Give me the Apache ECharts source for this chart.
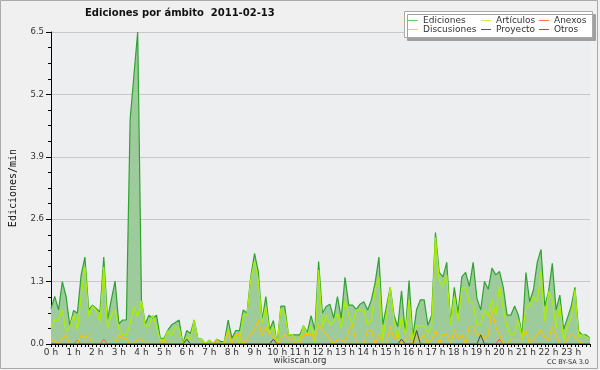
<!DOCTYPE html>
<html><head><meta charset="utf-8">
<script src="https://cdn.jsdelivr.net/npm/echarts@6/dist/echarts.min.js"></script>
<style>html,body{margin:0;padding:0;background:#f0f0f0}#c{width:600px;height:370px}</style>
</head><body><div id="c"></div>
<script>
// 10-minute slots, 00:00 .. 23:50
const slots = [];
for (let h = 0; h < 24; h++) for (let m = 0; m < 60; m += 10) slots.push(h + ':' + (m < 10 ? '0' : '') + m);

const yTicks = [0, 1.3, 2.6, 3.9, 5.2, 6.5];

const ediciones = [
0.74,0.99,0.71,1.30,0.99,0.38,0.70,0.64,1.44,1.81,0.71,0.81,
0.74,0.67,1.81,0.51,0.92,1.31,0.42,0.50,0.50,4.68,5.60,6.50,
0.92,0.42,0.60,0.53,0.60,0.12,0.12,0.29,0.40,0.45,0.50,0.00,
0.28,0.22,0.50,0.10,0.10,0.00,0.08,0.00,0.10,0.05,0.05,0.50,
0.12,0.28,0.28,0.71,0.64,1.40,1.89,1.51,0.50,0.99,0.29,0.49,
0.00,0.79,0.79,0.19,0.19,0.19,0.19,0.38,0.24,0.59,0.29,1.72,
0.64,0.78,0.83,0.54,0.99,0.54,1.39,0.81,0.81,0.72,0.83,0.88,
0.71,0.92,1.28,1.81,0.40,0.78,1.18,0.60,0.36,1.11,0.22,1.32,
0.15,0.72,0.92,0.92,0.39,0.60,2.32,1.49,1.40,1.70,0.45,1.18,
0.64,1.40,1.49,1.20,1.70,0.95,0.71,1.30,1.14,1.58,1.44,1.51,
1.18,0.60,0.60,0.79,0.60,0.19,1.49,0.88,1.13,1.70,1.97,0.79,
1.09,1.68,0.71,1.02,0.31,0.54,0.78,1.18,0.26,0.19,0.19,0.12];

const articulos = [
0.33,0.50,0.50,0.71,0.26,0.36,0.60,0.29,0.99,1.61,0.57,0.79,
0.71,0.47,1.61,0.33,0.60,0.71,0.33,0.19,0.19,0.43,0.78,0.56,
0.90,0.38,0.38,0.60,0.36,0.08,0.08,0.28,0.17,0.36,0.32,0.00,
0.15,0.10,0.49,0.08,0.10,0.00,0.08,0.00,0.00,0.00,0.05,0.29,
0.00,0.19,0.00,0.60,0.60,1.35,1.72,1.33,0.43,0.78,0.22,0.36,
0.00,0.74,0.64,0.19,0.19,0.08,0.08,0.38,0.19,0.38,0.00,1.54,
0.36,0.60,0.40,0.47,0.64,0.33,0.90,0.60,0.40,0.71,0.71,0.71,
0.40,0.50,1.13,1.39,0.08,0.60,1.18,0.50,0.08,0.57,0.19,0.92,
0.08,0.38,0.38,0.38,0.22,0.38,2.22,1.33,1.20,1.44,0.40,0.99,
0.47,1.16,1.18,0.85,0.85,0.40,0.40,0.71,0.57,0.92,0.60,1.20,
0.71,0.36,0.19,0.22,0.50,0.12,0.79,0.79,0.99,0.88,1.51,0.47,
1.09,0.92,0.33,0.81,0.08,0.36,0.54,1.13,0.15,0.19,0.15,0.12];

const discusiones = [
0.08,0.08,0,0.10,0.19,0,0,0,0.19,0.12,0.19,0,
0,0,0,0,0,0,0.19,0.12,0.12,0,0,0.10,
0.10,0,0,0,0,0,0.08,0,0,0,0,0,
0,0,0,0,0,0,0,0,0.10,0,0,0.28,
0,0.20,0.20,0,0.10,0.20,0.30,0.50,0.17,0.35,0.20,0.15,
0,0.10,0.20,0.10,0.10,0,0,0.20,0.20,0.20,0.10,0.40,
0.30,0.20,0.10,0,0.10,0.10,0,0.29,0.40,0,0,0,
0.29,0.29,0,0.20,0,0,0.38,0.10,0.20,0,0.10,0.20,
0,0.15,0.10,0.20,0,0.10,0.29,0,0.20,0.20,0,0.29,
0.10,0.20,0,0.36,0.36,0.20,0.20,0.10,0.20,0.71,0.36,0.20,
0,0,0.10,0.10,0.10,0.10,0.29,0,0.10,0.20,0.29,0.15,
0.08,0.36,0.20,0,0,0.10,0.20,0.15,0.08,0,0,0];

const anexos = [
0,0,0,0,0,0,0,0.08,0,0,0,0,
0,0,0.10,0,0,0,0,0,0,0,0,0,
0,0,0,0,0,0,0,0,0,0,0,0,
0,0,0,0,0,0,0,0,0,0,0,0,
0,0,0,0,0,0,0,0,0,0,0,0,
0,0,0,0,0,0,0,0,0,0,0,0,
0,0,0,0,0,0,0,0,0,0,0,0,
0,0,0,0,0,0,0,0,0,0,0,0,
0,0,0,0,0,0,0,0,0,0,0,0,
0,0,0,0,0,0,0,0,0,0,0,0.10,
0,0,0,0,0,0,0,0,0,0,0,0,
0,0,0,0,0,0,0,0,0,0,0,0];

const proyecto = [
0,0,0,0,0,0,0,0,0,0,0,0,
0,0,0,0,0,0,0,0,0,0,0,0,
0,0,0,0,0,0,0,0,0,0,0,0,
0.10,0,0,0,0,0,0,0,0,0,0,0,
0,0,0,0,0,0,0,0,0,0,0,0.10,
0,0,0,0,0,0,0,0,0,0,0,0,
0,0,0,0,0,0,0,0,0,0,0,0,
0,0,0,0,0,0,0,0,0,0.10,0,0,
0,0.28,0,0,0,0,0,0,0,0,0,0,
0,0,0,0,0,0,0.19,0,0,0,0,0,
0,0,0,0,0,0,0,0,0,0,0,0,
0,0,0,0,0,0,0,0,0,0,0,0];

const otros = [
0,0,0,0,0,0,0,0,0,0,0,0,
0,0,0,0,0,0,0,0,0,0,0,0,
0,0,0,0,0,0,0,0,0,0,0,0,
0,0,0,0,0,0,0,0,0,0,0,0,
0,0,0,0,0,0,0,0,0,0,0,0,
0,0,0,0,0,0,0,0,0,0,0,0,
0,0,0,0,0,0,0,0,0,0,0,0,
0,0,0,0,0,0,0,0,0,0,0,0,
0,0,0,0,0,0,0,0,0,0,0,0,
0,0,0,0,0,0,0,0,0,0,0,0,
0,0,0,0,0,0,0,0,0,0,0,0,
0,0,0,0,0,0,0,0,0,0,0,0];

const F = 'DejaVu Sans';
const chart = echarts.init(document.getElementById('c'), null, {renderer: 'canvas'});

function line(name, data, color, z, w) {
  return {name, type: 'line', data, symbol: 'none', z: z,
    lineStyle: {color, width: w || 1}, itemStyle: {color}};
}
const legText = {fontFamily: F, fontSize: 9, color: '#333', lineHeight: 9};
function leg(left, items) {
  return {left, top: 16, orient: 'vertical', padding: 0, itemGap: 0,
    itemWidth: 10, itemHeight: 1, icon: 'rect', selectedMode: false,
    textStyle: legText, data: items};
}

chart.setOption({
  animation: false,
  backgroundColor: '#f0f0f0',
  title: {text: 'Ediciones por ámbito  2011-02-13', left: 85, top: 8, padding: 0,
    textStyle: {fontFamily: F, fontWeight: 'bold', fontSize: 10, color: '#111'}},
  graphic: [
    {type: 'rect', z: 0, shape: {x: 0.5, y: 0.5, width: 597, height: 368},
      style: {fill: 'none', stroke: '#aaa', lineWidth: 1}},
    {type: 'rect', z: 1, shape: {x: 404.5, y: 11.5, width: 188, height: 26},
      style: {fill: '#fff', stroke: '#aaa', lineWidth: 1,
        shadowColor: '#a0a0a0', shadowOffsetX: 3, shadowOffsetY: 3, shadowBlur: 0}},
    {type: 'text', z: 5, x: 300, y: 361, style: {text: 'wikiscan.org', fontFamily: F,
      fontSize: 8.5, fill: '#333', textAlign: 'center', textVerticalAlign: 'middle'}},
    {type: 'text', z: 5, x: 589, y: 362, style: {text: 'CC BY-SA 3.0', fontFamily: F,
      fontSize: 6.5, fill: '#333', textAlign: 'right', textVerticalAlign: 'middle'}}
  ],
  legend: [
    leg(408, [{name: 'Ediciones', itemStyle: {color: '#66cc66'}}, {name: 'Discusiones', itemStyle: {color: '#ffcc33'}}]),
    leg(481, [{name: 'Artículos', itemStyle: {color: '#ccee44'}}, {name: 'Proyecto', itemStyle: {color: '#555555'}}]),
    leg(539, [{name: 'Anexos', itemStyle: {color: '#ff7744'}}, {name: 'Otros', itemStyle: {color: '#9933ff'}}])
  ],
  grid: {left: 45, right: 10, top: 32, bottom: 26, show: true, backgroundColor: '#eceef0', borderWidth: 0},
  xAxis: {
    type: 'category', data: slots, boundaryGap: false, z: 10,
    axisLine: {lineStyle: {color: '#000', width: 1}},
    axisTick: {show: true, interval: 0, length: 3, lineStyle: {color: '#000'}},
    axisLabel: {interval: 5, margin: 4, fontFamily: F, fontSize: 9, color: '#333',
      formatter: (v, i) => (i / 6) + ' h'},
    splitLine: {show: false}
  },
  yAxis: {
    type: 'value', min: yTicks[0], max: yTicks[yTicks.length - 1], interval: 1.3,
    name: 'Ediciones/min', nameLocation: 'middle', nameGap: 33, nameRotate: 90,
    nameTextStyle: {fontFamily: 'DejaVu Sans Mono', fontSize: 10, color: '#111'},
    axisLine: {show: true, lineStyle: {color: '#000', width: 1}},
    axisTick: {show: true, length: 5, lineStyle: {color: '#000'}},
    minorTick: {show: true, splitNumber: 4, length: 3, lineStyle: {color: '#000'}},
    axisLabel: {margin: 7, fontFamily: F, fontSize: 8.5, color: '#333',
      formatter: v => v.toFixed(1)},
    splitLine: {show: true, lineStyle: {color: '#c8c8c8', width: 1}}
  },
  series: [
    Object.assign(line('Ediciones', ediciones, '#2fa32f', 2, 1.2),
      {areaStyle: {color: '#9ecb9c', opacity: 1}}),
    line('Artículos', articulos, '#aaee00', 3, 1.3),
    line('Anexos', anexos, '#ee6633', 4),
    line('Discusiones', discusiones, '#f5c400', 4, 1.1),
    line('Proyecto', proyecto, '#444444', 5),
    line('Otros', otros, '#9933ff', 5)
  ]
});
</script>
</body></html>
